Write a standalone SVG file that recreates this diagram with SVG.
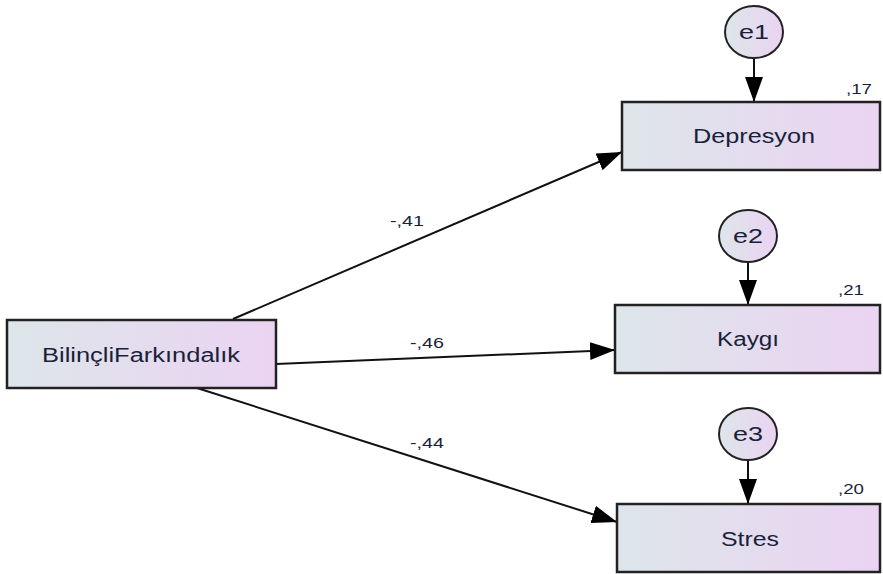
<svg xmlns="http://www.w3.org/2000/svg" width="883" height="574" viewBox="0 0 883 574">
<defs>
<linearGradient id="g" x1="0" y1="0" x2="1" y2="0">
<stop offset="0" stop-color="#dde6ea"/>
<stop offset="1" stop-color="#ebd3f2"/>
</linearGradient>
<marker id="ah" markerUnits="userSpaceOnUse" markerWidth="28" markerHeight="20" refX="25" refY="9" orient="auto">
<path d="M0,0 L25,9 L0,18 Z" fill="#000"/>
</marker>
</defs>
<style>
.box{fill:url(#g);stroke:#222;stroke-width:2.5}
.err{fill:url(#g);stroke:#222;stroke-width:2}
.t{font-family:"Liberation Sans",Arial,sans-serif;font-size:20px;fill:#1a1f3a;text-anchor:middle}
.lb{font-family:"Liberation Sans",Arial,sans-serif;font-size:14px;fill:#1a1f3a}
.c{stroke:#111;stroke-width:2;fill:none;marker-end:url(#ah)}
</style>
<rect width="883" height="574" fill="#fff"/>
<g id="connectors">
<line class="c" x1="233" y1="319" x2="622" y2="152"/>
<line class="c" x1="276" y1="364" x2="615" y2="350"/>
<line class="c" x1="197" y1="388" x2="617" y2="522"/>
<line class="c" x1="754" y1="58" x2="754" y2="102"/>
<line class="c" x1="748" y1="262" x2="748" y2="305"/>
<line class="c" x1="748" y1="460" x2="748" y2="504"/>
<text class="lb" x="390" y="226" textLength="34" lengthAdjust="spacingAndGlyphs">-,41</text>
<text class="lb" x="410" y="348" textLength="34" lengthAdjust="spacingAndGlyphs">-,46</text>
<text class="lb" x="410" y="448" textLength="34" lengthAdjust="spacingAndGlyphs">-,44</text>
</g>
<g id="bf">
<rect class="box" x="7" y="320" width="269" height="68"/>
<text class="t" x="141" y="362" textLength="198" lengthAdjust="spacingAndGlyphs">BilinçliFarkındalık</text>
</g>
<g id="depresyon">
<rect class="box" x="622" y="102" width="258" height="68"/>
<text class="t" x="754" y="143" textLength="122" lengthAdjust="spacingAndGlyphs">Depresyon</text>
<text class="lb" x="846" y="94" textLength="26" lengthAdjust="spacingAndGlyphs">,17</text>
</g>
<g id="kaygi">
<rect class="box" x="615" y="305" width="265" height="68"/>
<text class="t" x="748" y="346" textLength="62" lengthAdjust="spacingAndGlyphs">Kaygı</text>
<text class="lb" x="838" y="295" textLength="26" lengthAdjust="spacingAndGlyphs">,21</text>
</g>
<g id="stres">
<rect class="box" x="617" y="504" width="263" height="68"/>
<text class="t" x="750" y="546" textLength="58" lengthAdjust="spacingAndGlyphs">Stres</text>
<text class="lb" x="838" y="494" textLength="26" lengthAdjust="spacingAndGlyphs">,20</text>
</g>
<g id="e1">
<ellipse class="err" cx="754" cy="32" rx="29" ry="26"/>
<text class="t" x="754" y="39" textLength="30" lengthAdjust="spacingAndGlyphs">e1</text>
</g>
<g id="e2">
<ellipse class="err" cx="748" cy="236" rx="29" ry="26"/>
<text class="t" x="748" y="243" textLength="30" lengthAdjust="spacingAndGlyphs">e2</text>
</g>
<g id="e3">
<ellipse class="err" cx="748" cy="434" rx="29" ry="26"/>
<text class="t" x="748" y="441" textLength="30" lengthAdjust="spacingAndGlyphs">e3</text>
</g>
</svg>
